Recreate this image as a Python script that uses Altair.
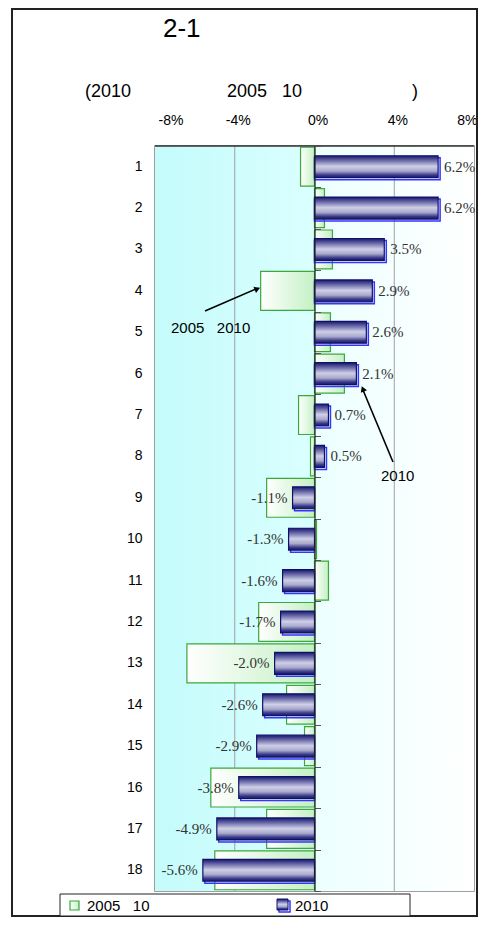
import altair as alt
import pandas as pd

# ---- data ----
categories = [str(i) for i in range(1, 19)]
rate_2010 = [6.2, 6.2, 3.5, 2.9, 2.6, 2.1, 0.7, 0.5, -1.1, -1.3,
             -1.6, -1.7, -2.0, -2.6, -2.9, -3.8, -4.9, -5.6]
rate_2005_10 = [-0.7, 0.5, 0.9, -2.7, 0.8, 1.5, -0.8, -0.2, -2.4, 0.1,
                0.7, -2.8, -6.4, -1.4, -0.5, -5.2, -2.4, -5.0]
x_ticks = [-8, -4, 0, 4, 8]
grid_ticks = [-4, 4]
NB = "\u00a0"
title_text = "2-1"
subtitle_parts = ["(2010", "2005" + NB * 3 + "10", ")"]
legend_labels = ["2005" + NB * 3 + "10", "2010"]
note_green = "2005" + NB * 3 + "2010"
note_blue = "2010"

df = pd.DataFrame({"cat": categories, "v2010": rate_2010, "v0510": rate_2005_10})
df["label"] = [f"{v:.1f}%" for v in rate_2010]
grid_df = pd.DataFrame({"g": grid_ticks})
dummy = alt.Data(values=[{"a": 1}])

W, H = 319, 745
SANS = "Liberation Sans"
SERIF = "Liberation Serif"

xscale = alt.Scale(domain=[-8, 8], nice=False, zero=False)
yscale = alt.Scale(domain=categories, paddingInner=0, paddingOuter=0)

x_axis = alt.Axis(orient="top", values=x_ticks, labelExpr="datum.value + '%'",
                  grid=False, ticks=False, domain=False, labelPadding=19,
                  labelOffset=3, labelFontSize=14, labelFont=SANS,
                  labelColor="#000", title=None)


def grad(stops, vertical=False):
    return alt.LinearGradient(
        gradient="linear", x1=0, x2=0 if vertical else 1, y1=0, y2=1 if vertical else 0,
        stops=[alt.GradientStop(color=c, offset=o) for c, o in stops])


green_grad = grad([("#ffffff", 0), ("#c4f0c4", 1)])
blue_grad = grad([("#16166e", 0), ("#5a5a9e", 0.18), ("#cfcfe8", 0.48),
                  ("#a8a8cc", 0.7), ("#3a3a88", 0.88), ("#16166e", 1)], vertical=True)
bg_left = grad([("#c4fbfb", 0), ("#dbffff", 1)])
bg_right = grad([("#ecffff", 0), ("#ffffff", 1)])

base = alt.Chart(df)

bg1 = alt.Chart(dummy).mark_rect(fill=bg_left).encode(
    x=alt.X(datum=-8, scale=xscale, axis=x_axis), x2=alt.datum(0),
    y=alt.value(0), y2=alt.value(H))
bg2 = alt.Chart(dummy).mark_rect(fill=bg_right).encode(
    x=alt.X(datum=0, scale=xscale, axis=x_axis), x2=alt.datum(8),
    y=alt.value(0), y2=alt.value(H))

grid = alt.Chart(grid_df).mark_rule(color="#a0a0a0", strokeWidth=1).encode(
    x=alt.X("g:Q", scale=xscale, axis=x_axis), y=alt.value(0), y2=alt.value(H))

green = base.mark_bar(height={"band": 0.94}, fill=green_grad, stroke="#3aa83a",
                      strokeWidth=1.2).encode(
    x=alt.X("v0510:Q", scale=xscale, axis=x_axis),
    x2=alt.datum(0),
    y=alt.Y("cat:N", sort=categories, scale=yscale,
            axis=alt.Axis(orient="left", ticks=False, domain=False, labelPadding=13,
                          labelFontSize=14, labelFont=SANS, labelColor="#000",
                          title=None, grid=False)),
)

shadow = base.mark_bar(height={"band": 0.53}, fill="transparent", stroke="#3535ff",
                       strokeWidth=1.5, xOffset=2, yOffset=2).encode(
    x=alt.X("v2010:Q", scale=xscale, axis=x_axis),
    x2=alt.datum(0),
    y=alt.Y("cat:N", sort=categories, scale=yscale, axis=None),
)

blue = base.mark_bar(height={"band": 0.53}, fill=blue_grad, stroke="#10106a",
                     strokeWidth=1.2).encode(
    x=alt.X("v2010:Q", scale=xscale, axis=x_axis),
    x2=alt.datum(0),
    y=alt.Y("cat:N", sort=categories, scale=yscale,
            axis=alt.Axis(orient="right", offset=-W / 2, labels=False, ticks=True,
                          tickBand="extent", tickSize=6, tickColor="#555",
                          domain=True, domainColor="#222", domainWidth=1.2,
                          title=None, grid=False, zindex=1)),
)

lab_pos = base.transform_filter("datum.v2010 >= 0").mark_text(
    align="left", baseline="middle", dx=6, font=SERIF, fontSize=15, color="#333").encode(
    x=alt.X("v2010:Q", scale=xscale, axis=x_axis),
    y=alt.Y("cat:N", sort=categories, scale=yscale, axis=None),
    text="label:N")
lab_neg = base.transform_filter("datum.v2010 < 0").mark_text(
    align="right", baseline="middle", dx=-5, font=SERIF, fontSize=15, color="#333").encode(
    x=alt.X("v2010:Q", scale=xscale, axis=x_axis),
    y=alt.Y("cat:N", sort=categories, scale=yscale, axis=None),
    text="label:N")


def deco_rect(x, x2, y, y2, **kw):
    return alt.Chart(dummy).mark_rect(**kw).encode(
        x=alt.value(x), x2=alt.value(x2), y=alt.value(y), y2=alt.value(y2))


def txt(s, x, y, size, align="left", font=SANS, color="#000"):
    return alt.Chart(dummy).mark_text(text=s, align=align, baseline="middle",
                                      fontSize=size, font=font, color=color).encode(
        x=alt.value(x), y=alt.value(y))


def line(x, y, x2, y2, color="#000", width=1.6):
    return alt.Chart(dummy).mark_rule(color=color, strokeWidth=width).encode(
        x=alt.value(x), y=alt.value(y), x2=alt.value(x2), y2=alt.value(y2))


def head(x, y, angle):
    return alt.Chart(dummy).mark_point(shape="triangle", filled=True, size=45,
                                       angle=angle, color="#000", opacity=1).encode(
        x=alt.value(x), y=alt.value(y))


# canvas: 470 x 909 (fits the 486 x 925 window with the 8px page margin)
frame = deco_rect(-143, 322, -137, 770, fill="transparent", stroke="#222", strokeWidth=2)
top_border = line(0, 0, W, 0, color="#333", width=1.5)

titles = [
    txt(title_text, 8, -117, 26),
    txt(subtitle_parts[0], -70, -54, 18),
    txt(subtitle_parts[1], 72, -54, 18),
    txt(subtitle_parts[2], 257, -54, 18),
]

notes = [
    line(50, 165, 101, 143),
    head(101.5, 143.2, 67),
    txt(note_green, 16, 182, 15),
    line(238, 316, 208, 244),
    head(208.2, 243.8, 337.5),
    txt(note_blue, 226, 330, 15),
]

legend = [
    deco_rect(-95, 255, 748, 770, fill="#ffffff", stroke="#222", strokeWidth=1),
    deco_rect(-85, -76, 755, 764, fill=green_grad, stroke="#3aa83a", strokeWidth=1.2),
    txt(legend_labels[0], -68, 760, 15),
    deco_rect(124, 135, 755, 766, fill="transparent", stroke="#3535ff", strokeWidth=1.5),
    deco_rect(122, 133, 753, 764, fill=blue_grad, stroke="#10106a", strokeWidth=1),
    txt(legend_labels[1], 140, 760, 15),
]

chart = alt.layer(
    frame, bg1, bg2, grid, green, shadow, blue, lab_pos, lab_neg, top_border,
    *titles, *notes, *legend
).resolve_axis(y="independent").properties(
    width=W, height=H,
    autosize=alt.AutoSizeParams(type="none"),
    padding={"left": 147, "top": 138, "right": 4, "bottom": 26},
).configure_view(stroke="#808080", strokeWidth=1.5)

chart.save("out.html", embed_options={"renderer": "svg", "actions": False})
